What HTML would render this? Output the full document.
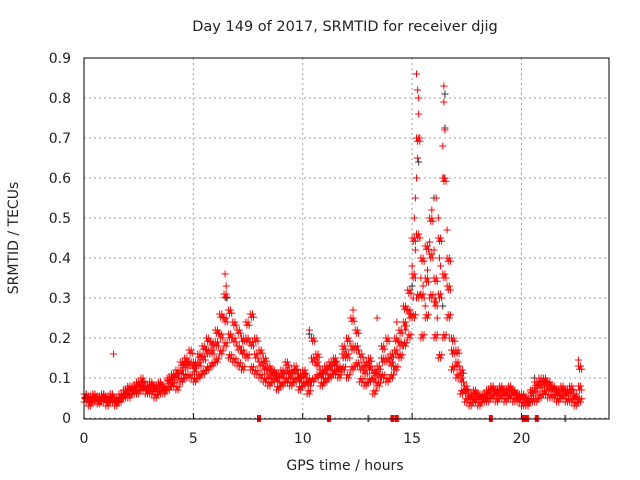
<!DOCTYPE html>
<html><head><meta charset="utf-8"><style>
body{margin:0;background:#fff}
svg{display:block;font-family:"DejaVu Sans","Liberation Sans",sans-serif;font-size:14px;fill:#222}
</style></head><body>
<svg id="c" width="640" height="480">
<text x="345" y="31" text-anchor="middle" font-size="14.5">Day 149 of 2017, SRMTID for receiver djig</text>
<text x="18" y="238" text-anchor="middle" transform="rotate(-90 18 238)">SRMTID / TECUs</text>
<text x="345" y="470" text-anchor="middle">GPS time / hours</text>
<g id="grid"></g><g id="gray"></g><g id="red"></g><g id="ticks"></g>
<rect x="84" y="58" width="525" height="361" fill="none" stroke="#000"/>
</svg>
<script>
const xTicks=[0,5,10,15,20];
const yTicks=[0,0.1,0.2,0.3,0.4,0.5,0.6,0.7,0.8,0.9];
const hours=[0,0.2,0.4,0.6,0.8,1.0,1.2,1.4,1.6,1.8,2.0,2.2,2.4,2.6,2.8,3.0,3.2,3.4,3.6,3.8,4.0,4.2,4.4,4.6,4.8,5.0,5.2,5.4,5.6,5.8,6.0,6.2,6.4,6.6,6.8,7.0,7.2,7.4,7.6,7.8,8.0,8.2,8.4,8.6,8.8,9.0,9.2,9.4,9.6,9.8,10.0,10.2,10.4,10.6,10.8,11.0,11.2,11.4,11.6,11.8,12.0,12.2,12.4,12.6,12.8,13.0,13.2,13.4,13.6,13.8,14.0,14.2,14.4,14.6,14.8,15.0,15.2,15.4,15.6,15.8,16.0,16.2,16.4,16.6,16.8,17.0,17.2,17.4,17.6,17.8,18.0,18.2,18.4,18.6,18.8,19.0,19.2,19.4,19.6,19.8,20.0,20.2,20.4,20.6,20.8,21.0,21.2,21.4,21.6,21.8,22.0,22.2,22.4,22.6];
const lowVals=[.04,.03,.04,.035,.04,.03,.04,.03,.04,.05,.05,.06,.06,.07,.06,.06,.05,.06,.06,.07,.08,.07,.09,.1,.1,.09,.1,.11,.12,.13,.14,.16,.18,.15,.14,.13,.12,.15,.12,.11,.1,.09,.08,.09,.07,.08,.09,.08,.09,.07,.08,.06,.09,.1,.08,.09,.1,.11,.1,.12,.1,.12,.13,.09,.08,.09,.06,.08,.1,.09,.1,.12,.15,.18,.2,.25,.3,.2,.25,.3,.2,.15,.2,.25,.12,.1,.06,.04,.03,.04,.03,.04,.04,.05,.04,.05,.04,.05,.04,.04,.03,.03,.04,.04,.05,.06,.05,.05,.04,.05,.04,.04,.03,.04];
const midVals=[.05,.045,.05,.04,.05,.045,.05,.04,.05,.06,.065,.07,.075,.08,.07,.075,.065,.075,.07,.085,.095,.1,.11,.125,.13,.115,.13,.145,.16,.16,.18,.2,.24,.2,.19,.17,.16,.19,.18,.15,.13,.12,.1,.105,.09,.1,.11,.1,.11,.09,.1,.08,.14,.13,.1,.11,.12,.13,.115,.15,.15,.17,.17,.12,.11,.12,.09,.1,.14,.14,.13,.16,.18,.23,.26,.35,.45,.3,.34,.4,.28,.3,.35,.32,.16,.13,.09,.06,.045,.055,.045,.05,.055,.065,.055,.065,.055,.065,.055,.05,.045,.04,.055,.065,.075,.08,.07,.065,.055,.065,.055,.06,.045,.07];
const highVals=[.06,.05,.06,.055,.06,.05,.06,.05,.06,.07,.08,.08,.09,.1,.08,.09,.08,.09,.08,.1,.11,.12,.14,.15,.17,.14,.16,.18,.2,.19,.22,.26,.31,.27,.24,.22,.2,.24,.26,.2,.17,.15,.13,.12,.11,.12,.14,.12,.13,.11,.12,.1,.2,.16,.12,.13,.14,.15,.13,.18,.2,.25,.22,.16,.14,.15,.12,.13,.18,.2,.16,.2,.22,.28,.32,.45,.7,.4,.43,.5,.35,.45,.6,.4,.2,.17,.12,.08,.06,.07,.06,.06,.07,.08,.07,.08,.07,.08,.07,.06,.06,.05,.07,.09,.1,.1,.09,.08,.07,.08,.07,.08,.06,.13];
const spikeHours=[15.2,15.25,15.3,15.3,15.35,15.25,15.2,15.1,15.15,16.45,16.45,16.5,16.4,16.45,16.1,15.9,16.2,16.6,1.35,6.45,6.5,14.3,13.4,10.3,12.3,22.6,15.0,15.4,16.0,16.3,15.05,15.15,15.35,15.5,15.7,16.05,16.25,16.55,16.7,14.9,14.7,15.6,15.8,16.15];
const spikeVals=[.86,.82,.8,.76,.7,.65,.6,.5,.42,.83,.79,.72,.68,.6,.55,.52,.5,.47,.16,.36,.33,.24,.25,.22,.27,.145,.38,.35,.42,.38,.3,.55,.45,.33,.37,.3,.4,.35,.2,.25,.22,.28,.44,.25];
const grayHours=[15.2,16.5,15.3,16.0,16.5,10.3,6.5,15.0,16.4,20.6];
const grayVals=[.86,.725,.64,.55,.81,.21,.3,.33,.28,.1];
const rugRed=[8.0,11.2,14.1,14.3,18.6,20.1,20.25,20.7];
const rugGray=[13.0,22.0];
const X=h=>84+h*21.875, Y=v=>418-v*400;
const NS='http://www.w3.org/2000/svg';
function mk(tag,attrs,parent){const e=document.createElementNS(NS,tag);for(const k in attrs)e.setAttribute(k,attrs[k]);document.getElementById(parent).appendChild(e);return e;}
xTicks.forEach(t=>{
 const g=mk('line',{x1:X(t),x2:X(t),y1:58,y2:418,stroke:'#a0a0a0','stroke-dasharray':'2,3'},'grid');
 
 
 const l=mk('text',{x:X(t),y:443,'text-anchor':'middle'},'ticks');l.textContent=t;
 
 
 mk('line',{x1:X(t),x2:X(t),y1:419,y2:413,stroke:'#000'},'ticks');
});
yTicks.forEach(t=>{
 const g=mk('line',{x1:84,x2:609,y1:Y(t),y2:Y(t),stroke:'#a0a0a0','stroke-dasharray':'2,3'},'grid');
 
 
 const l=mk('text',{x:71,y:Y(t)+5,'text-anchor':'end'},'ticks');l.textContent=t;
 
 
});
function plus(h,v,col,par){
 const p=mk('path',{d:`M${X(h)-3.5},${Y(v)}h7M${X(h)},${Y(v)-3.5}v7`,stroke:col,'stroke-width':1,fill:'none'},par);
 
 
}
grayHours.forEach((h,i)=>plus(h,grayVals[i],'#333','gray'));
const offs=[0,0.05,0.1,0.15];
hours.forEach((h,i)=>{
 offs.forEach((o,k)=>{
  plus(h+o,lowVals[i]+(k%2)*0.008,'red','red');
  plus(h+o,midVals[i]+((k+1)%2)*0.01,'red','red');
  plus(h+o,highVals[i]-(k%2)*0.008,'red','red');
 });
});
spikeHours.forEach((h,i)=>plus(h,spikeVals[i],'red','red'));
rugRed.forEach(h=>{const r=mk('rect',{x:X(h)-2,y:415,width:4,height:7,fill:'red'},'ticks');
 
 });
rugGray.forEach(h=>{const r=mk('rect',{x:X(h)-1,y:415,width:2,height:7,fill:'#666'},'ticks');
 
 });
</script>
</body></html>
